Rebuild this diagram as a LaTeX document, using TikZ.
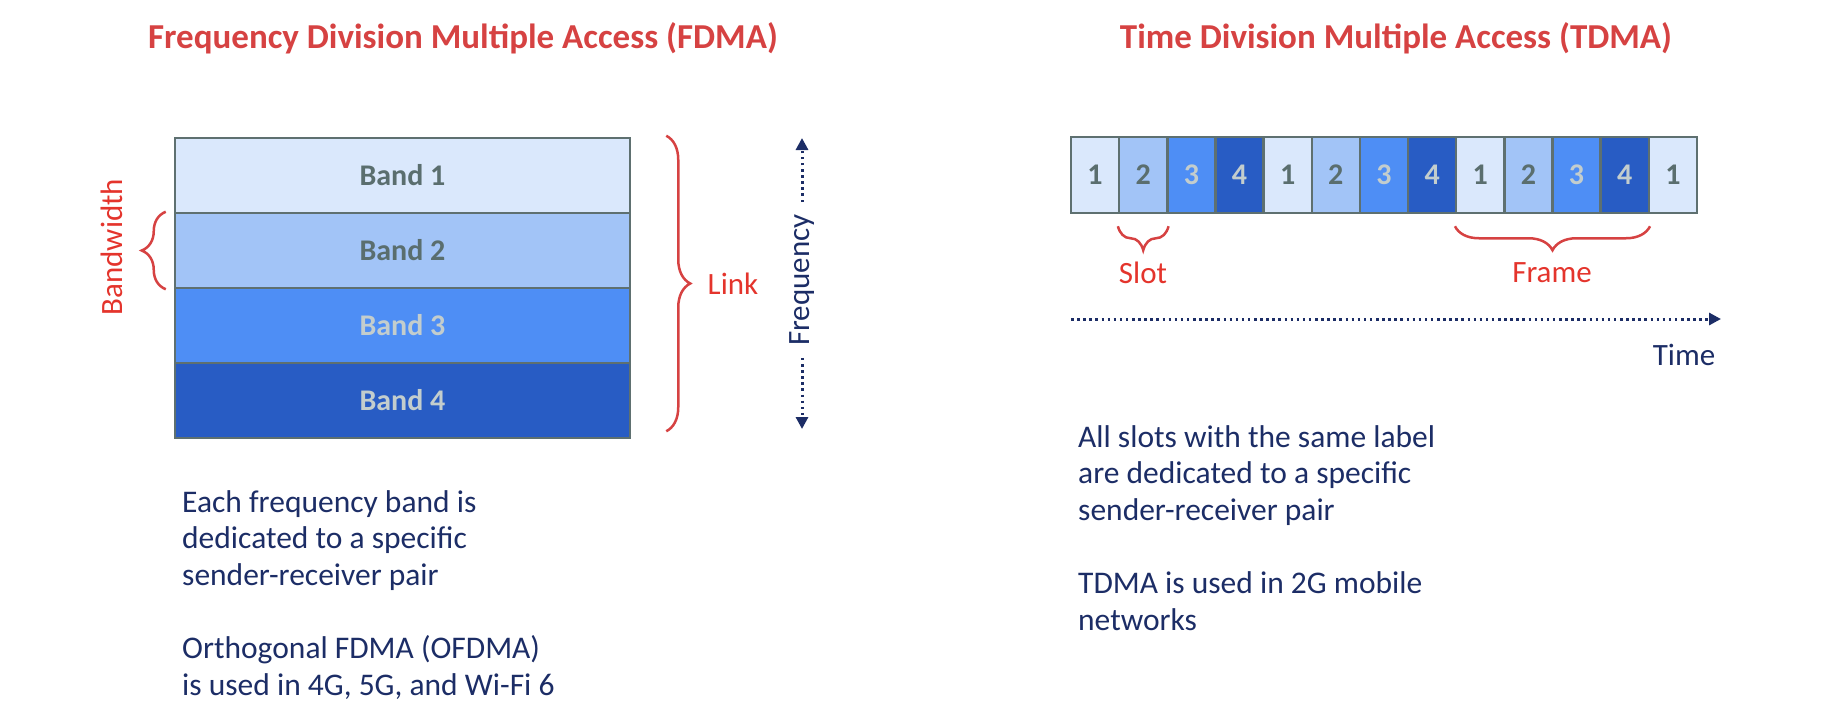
\documentclass[tikz,border=0pt]{standalone}
\usepackage{fontspec}
\setmainfont{Carlito}
\usetikzlibrary{decorations.pathreplacing,arrows.meta}
\definecolor{cA}{RGB}{218,232,252}
\definecolor{cB}{RGB}{162,196,247}
\definecolor{cC}{RGB}{78,142,245}
\definecolor{cD}{RGB}{40,92,196}
\definecolor{edge}{RGB}{94,112,112}
\definecolor{tdark}{RGB}{90,110,110}
\definecolor{tlight}{RGB}{195,205,205}
\definecolor{tred}{RGB}{214,66,66}
\definecolor{ared}{RGB}{228,52,44}
\definecolor{navy}{RGB}{28,45,102}
\begin{document}
\begin{tikzpicture}[x=1pt,y=-1pt,
  title/.style={text=tred,font=\fontsize{35}{42}\selectfont\bfseries,inner sep=0pt,anchor=base},
  band/.style={draw=edge,line width=2.5pt,minimum width=455pt,minimum height=75pt,inner sep=0pt,font=\fontsize{30}{34}\selectfont\bfseries},
  cell/.style={draw=edge,line width=2.5pt,minimum width=48.15pt,minimum height=76pt,inner sep=0pt,font=\fontsize{30}{36}\selectfont\bfseries},
  brc/.style={draw=tred,line width=2.5pt,decorate,decoration={brace,amplitude=24pt}},
  note/.style={text=ared,font=\fontsize{31}{36}\selectfont,inner sep=0pt},
  axis/.style={text=navy,font=\fontsize{31}{36}\selectfont,inner sep=0pt},
  body/.style={text=navy,font=\fontsize{31.5}{36.6}\selectfont,align=left,inner sep=0pt,anchor=base west},
  dotarrow/.style={draw=navy,line width=3pt,dash pattern=on 2.5pt off 3.6pt,-{Triangle[width=12pt,length=12pt]}}
]
\useasboundingbox (0,0) rectangle (1832,716);

% titles
\node[title] (tf) at (463,48) {Frequency Division Multiple Access (FDMA)};
\node[title] (tt) at (1396,48) {Time Division Multiple Access (TDMA)};

% FDMA bands
\node[band,fill=cA,text=tdark] (b1) at (402.5,175.5) {Band 1};
\node[band,fill=cB,text=tdark] (b2) at (402.5,250.5) {Band 2};
\node[band,fill=cC,text=tlight] (b3) at (402.5,325.5) {Band 3};
\node[band,fill=cD,text=tlight] (b4) at (402.5,400.5) {Band 4};

% bandwidth brace
\draw[brc] ([xshift=-8pt]b2.south west) -- ([xshift=-8pt]b2.north west);
\node[note,rotate=90] (bw) at (112,247) {Bandwidth};

% link brace
\draw[brc] ([xshift=35pt,yshift=1pt]b1.north east) -- ([xshift=35pt,yshift=8pt]b4.south east);
\node[note] (lk) at (733,284) {Link};

% frequency axis
\node[axis,rotate=90,inner sep=12pt] (fq) at (802,280) {Frequency};
\coordinate (ftop) at (802,138);
\coordinate (fbot) at (802,429);
\draw[dotarrow] (fq.east) -- (ftop);
\draw[dotarrow] (fq.west) -- (fbot);

% TDMA slots
\foreach \i/\c/\t/\n in {1/cA/tdark/1,2/cB/tdark/2,3/cC/tlight/3,4/cD/tlight/4,
                          5/cA/tdark/1,6/cB/tdark/2,7/cC/tlight/3,8/cD/tlight/4,
                          9/cA/tdark/1,10/cB/tdark/2,11/cC/tlight/3,12/cD/tlight/4,
                          13/cA/tdark/1}{
  \node[cell,fill=\c,text=\t] (s\i) at ({1071+(\i-0.5)*48.15},175) {\n};
}

% slot and frame braces
\draw[brc] ([yshift=-12pt]s2.south east) -- ([yshift=-12pt]s2.south west);
\node[note] (sl) at (1143,273) {Slot};
\draw[brc] ([yshift=-12pt]s12.south east) -- ([yshift=-12pt]s9.south west);
\node[note] (fr) at (1552,273) {Frame};

% time axis
\coordinate (t0) at (1071,319);
\coordinate (t1) at (1721,319);
\draw[dotarrow] (t0) -- (t1);
\node[axis] (tm) at (1684,355) {Time};

% texts (anchored at the baseline of the last line)
\node[body] (lt) at (182,695) {Each frequency band is\\dedicated to a specific\\sender-receiver pair\\[36.6pt]Orthogonal FDMA (OFDMA)\\is used in 4G, 5G, and Wi-Fi 6};
\node[body] (rt) at (1078,630) {All slots with the same label\\are dedicated to a specific\\sender-receiver pair\\[36.6pt]TDMA is used in 2G mobile\\networks};
\end{tikzpicture}
\end{document}
